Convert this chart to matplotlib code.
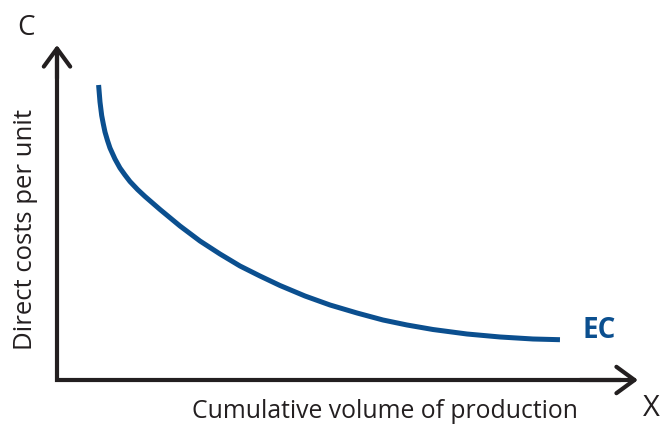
import matplotlib.pyplot as plt

# curve, in % of axis length
volume = [7.16, 7.40, 7.69, 7.97, 8.26, 8.69, 9.12, 9.98, 10.84, 11.70,
          12.56, 13.86, 15.15, 17.73, 21.17, 24.61, 28.06, 31.50, 34.94, 38.38,
          42.69, 46.99, 51.64, 56.11, 60.24, 64.72, 70.57, 76.25, 81.93, 86.57]
cost = [88.06, 82.99, 78.96, 76.42, 74.03, 71.49, 69.25, 65.97, 63.28, 61.19,
        59.25, 56.87, 54.78, 50.90, 45.97, 41.49, 37.61, 34.03, 31.04, 28.21,
        25.07, 22.39, 20.00, 17.91, 16.42, 15.07, 13.73, 12.84, 12.24, 12.03]

curve_label = "EC"
x_label = "Cumulative volume of production"
y_label = "Direct costs per unit"

W, H = 662, 428
blue = "#0b4f8f"
ink = "#231f20"
plt.rcParams['font.family'] = ['Open Sans', 'DejaVu Sans']

fig = plt.figure(figsize=(W / 100, H / 100), dpi=100)
# origin at pixel (57, 380), arrow tips at (638, 380) and (57, 45)
ax = fig.add_axes([57 / W, (H - 380) / H, (638 - 57) / W, (380 - 45) / H])
ax.set_xlim(0, 100)
ax.set_ylim(0, 100)
ax.axis('off')

ax.plot(volume, cost, color=blue, lw=3.6, solid_capstyle='butt',
        solid_joinstyle='round')

# axes with open arrow heads
ax.plot([0, 0, 97], [97, 0, 0], color=ink, lw=3, solid_joinstyle='miter',
        solid_capstyle='butt', clip_on=False)
arrow = dict(arrowstyle='->,head_length=1.3,head_width=0.95', color=ink, lw=3,
             mutation_scale=10, shrinkA=0, shrinkB=0)
ax.annotate('', xy=(100, 0), xytext=(90, 0), arrowprops=arrow, annotation_clip=False)
ax.annotate('', xy=(0, 100), xytext=(0, 90), arrowprops=arrow, annotation_clip=False)

fig.text(26 / W, 1 - 28 / H, "C", fontsize=20, color=ink, ha='center', va='center')
fig.text(651 / W, 1 - 408 / H, "X", fontsize=21, color=ink, ha='center', va='center')
fig.text(385 / W, 1 - 411 / H, x_label, fontsize=17.8, color=ink, ha='center', va='center')
fig.text(26 / W, 1 - 229 / H, y_label, fontsize=18.5, color=ink, ha='center', va='center',
         rotation=90)
fig.text(599 / W, 1 - 331 / H, curve_label, fontsize=20, color=blue, fontweight='bold',
         ha='center', va='center')

fig.savefig("out.png", dpi=100, facecolor='white')
